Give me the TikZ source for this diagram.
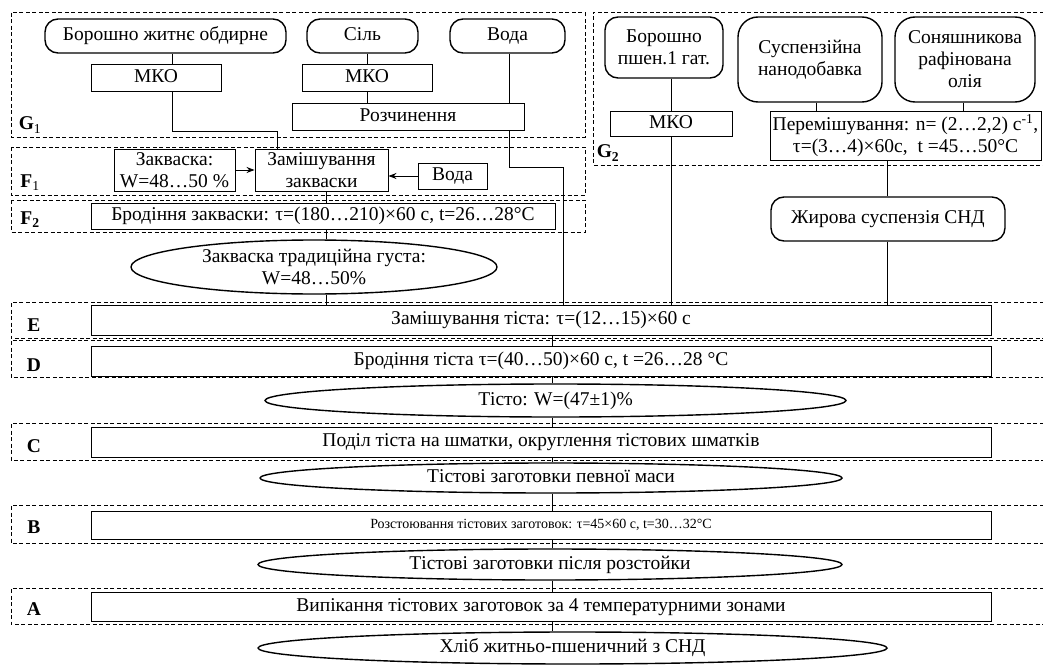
\documentclass[tikz,border=0pt]{standalone}
\usepackage{fontspec}
\setmainfont{Liberation Serif}
\usetikzlibrary{shapes.geometric,arrows.meta}
\begin{document}
\begin{tikzpicture}[x=1pt,y=-1pt,
 base/.style={font=\fontsize{19.5}{22}\selectfont, align=center, inner sep=0pt},
 one/.style={text height=13.5pt, text depth=4pt},
 box/.style={base, draw, line width=0.9pt},
 rbox/.style={base, draw, line width=1.4pt, rounded corners=13pt},
 oval/.style={base, draw, ellipse, line width=1.4pt},
 frame/.style={draw, dash pattern=on 4pt off 2.5pt, line width=0.8pt},
 lbl/.style={font=\fontsize{19.5}{22}\selectfont\bfseries, inner sep=0pt},
 arr/.style={line width=0.9pt, -{Stealth[length=8pt,width=6pt]}},
 ln/.style={line width=0.9pt}]
\useasboundingbox (0,0) rectangle (1043,666);
\clip (0,0) rectangle (1043,666);
% frames
\draw[frame] (11,12.7) rectangle (585,137);
\draw[frame] (11,147) rectangle (585,195);
\draw[frame] (11,200) rectangle (585,232);
\draw[frame] (1050,12) -| (593,165) -- (1050,165);
\draw[frame] (1050,302) -| (11,338) -- (1050,338);
\draw[frame] (1050,340) -| (11,377) -- (1050,377);
\draw[frame] (1050,423) -| (11,460) -- (1050,460);
\draw[frame] (1050,505) -| (11,543) -- (1050,543);
\draw[frame] (1050,588) -| (11,624) -- (1050,624);
% labels
\node[lbl] (lg1) at (30,125) {G\textsubscript{\mdseries 1}};
\node[lbl] (lf1) at (30,183) {F\textsubscript{\mdseries 1}};
\node[lbl] (lf2) at (30,220) {F\textsubscript{2}};
\node[lbl] (lg2) at (608,153) {G\textsubscript{2}};
\node[lbl] (le) at (34,325) {E};
\node[lbl] (ld) at (34,365) {D};
\node[lbl] (lc) at (34,446) {C};
\node[lbl] (lb) at (34,527) {B};
\node[lbl] (la) at (34,609) {A};
% G1
\node[rbox, one, minimum width=241pt, minimum height=34pt] (bzh) at (165.5,36) {Борошно житнє обдирне};
\node[rbox, one, minimum width=111pt, minimum height=34pt] (sil) at (362.5,36) {Сіль};
\node[rbox, one, minimum width=115pt, minimum height=34pt] (voda1) at (507.5,36) {Вода};
\node[box, one, minimum width=130pt, minimum height=27pt] (mko1) at (156,77.5) {МКО};
\node[box, one, minimum width=130pt, minimum height=27pt] (mko2) at (367,77.5) {МКО};
\node[box, one, minimum width=232pt, minimum height=27pt] (rozch) at (408,116.5) {Розчинення};
% F1, F2
\node[box, minimum width=121pt, minimum height=42pt] (zakv) at (174.5,170) {Закваска:\\W=48…50 \%};
\node[box, minimum width=133pt, minimum height=42pt] (zam) at (321.5,170) {Замішування\\закваски};
\node[box, one, minimum width=69pt, minimum height=26pt] (voda2) at (452.5,176) {Вода};
\node[box, one, minimum width=464pt, minimum height=26pt] (brz) at (323,216) {Бродіння закваски: τ=(180…210)×60 с, t=26…28°C};
\node[oval, minimum width=366pt, minimum height=54pt] (ellz) at (314,267) {Закваска традиційна густа:\\W=48…50\%};
% G2
\node[rbox, minimum width=118pt, minimum height=61pt] (bp) at (664,47.5) {Борошно\\пшен.1 гат.};
\node[rbox, minimum width=144pt, minimum height=85pt, rounded corners=20pt] (susp) at (810,59.5) {Суспензійна\\нанодобавка};
\node[rbox, minimum width=140pt, minimum height=85pt, rounded corners=20pt] (son) at (965,59.5) {Соняшникова\\рафінована\\олія};
\node[box, one, minimum width=122pt, minimum height=25pt] (mko3) at (671,123.5) {МКО};
\node[box, minimum width=271pt, minimum height=49pt] (mix) at (905.5,135.5) {Перемішування: n= (2…2,2) с\textsuperscript{-1},\\τ=(3…4)×60с,~~t =45…50°С};
\node[rbox, one, minimum width=234pt, minimum height=44pt] (zhyr) at (888,219) {Жирова суспензія СНД};
% main column
\node[box, one, minimum width=900pt, minimum height=30pt] (e) at (541,320) {Замішування тіста: τ=(12…15)×60 с};
\node[box, one, minimum width=900pt, minimum height=30pt] (d) at (541,361) {Бродіння тіста τ=(40…50)×60 с, t =26…28 °С};
\node[oval, one, minimum width=581pt, minimum height=33pt] (tisto) at (555.5,400.5) {Тісто: W=(47±1)\%};
\node[box, one, minimum width=900pt, minimum height=30pt] (c) at (541,442) {Поділ тіста на шматки, округлення тістових шматків};
\node[oval, one, minimum width=582pt, minimum height=30pt] (pm) at (551,478) {Тістові заготовки певної маси};
\node[box, minimum width=900pt, minimum height=28pt, font=\fontsize{14}{16}\selectfont, text height=10pt, text depth=3pt] (b) at (541,525) {Розстоювання тістових заготовок: τ=45×60 с, t=30…32°C};
\node[oval, one, minimum width=584pt, minimum height=31pt] (pr) at (550,564.5) {Тістові заготовки після розстойки};
\node[box, one, minimum width=900pt, minimum height=29pt] (a) at (541,606.5) {Випікання тістових заготовок за 4 температурними зонами};
\node[oval, one, minimum width=629pt, minimum height=32pt] (hl) at (572.5,648) {Хліб житньо-пшеничний з СНД};
% coordinates for connector lines
\coordinate (x172) at (172,0);
\coordinate (j1) at (277,131);
\coordinate (x367) at (367,0);
\coordinate (x509) at (509,0);
\coordinate (j2) at (563,167);
\coordinate (x326) at (326,0);
\coordinate (x671) at (671,0);
\coordinate (x816) at (816,0);
\coordinate (x963) at (963,0);
\coordinate (x887) at (887,0);
\coordinate (x552) at (552,0);
% connectors G1
\draw[ln] (bzh.south -| x172) -- (mko1.north -| x172);
\draw[ln] (mko1.south -| x172) |- (j1) -- (zam.north -| j1);
\draw[ln] (sil.south -| x367) -- (mko2.north -| x367);
\draw[ln] (mko2.south -| x367) -- (rozch.north -| x367);
\draw[ln] (voda1.south -| x509) -- (rozch.north -| x509);
\draw[ln] (rozch.south -| x509) |- (j2) -- (e.north -| j2);
% F1
\draw[arr] (zakv.east) -- (zam.west);
\draw[arr] (voda2.west) -- (voda2.west -| zam.east);
\draw[ln] (zam.south -| x326) -- (brz.north -| x326);
\draw[ln] (brz.south -| x326) -- (ellz.north -| x326);
\draw[ln] (ellz.south -| x326) -- (e.north -| x326);
% G2
\draw[ln] (bp.south -| x671) -- (mko3.north -| x671);
\draw[ln] (mko3.south -| x671) -- (e.north -| x671);
\draw[ln] (susp.south -| x816) -- (mix.north -| x816);
\draw[ln] (son.south -| x963) -- (mix.north -| x963);
\draw[ln] (mix.south -| x887) -- (zhyr.north -| x887);
\draw[ln] (zhyr.south -| x887) -- (e.north -| x887);
% main column
\draw[ln] (e.south -| x552) -- (d.north -| x552);
\draw[ln] (d.south -| x552) -- (tisto.north -| x552);
\draw[ln] (tisto.south -| x552) -- (c.north -| x552);
\draw[ln] (c.south -| x552) -- (pm.north -| x552);
\draw[ln] (pm.south -| x552) -- (b.north -| x552);
\draw[ln] (b.south -| x552) -- (pr.north -| x552);
\draw[ln] (pr.south -| x552) -- (a.north -| x552);
\draw[ln] (a.south -| x552) -- (hl.north -| x552);
\end{tikzpicture}
\end{document}
